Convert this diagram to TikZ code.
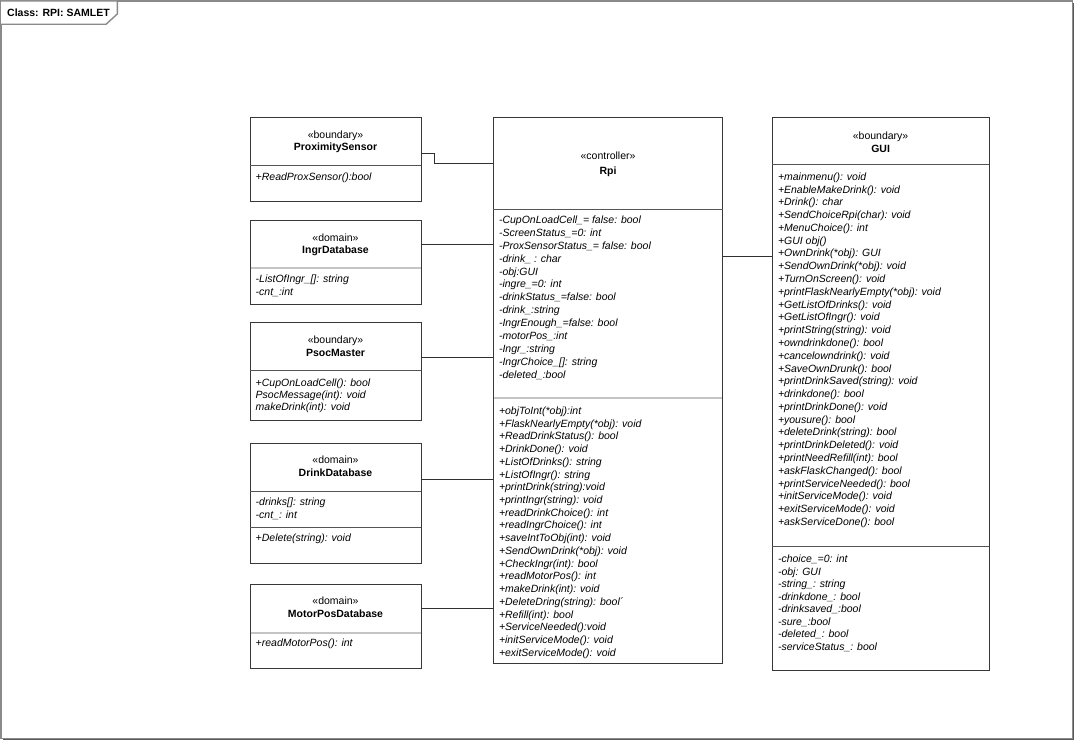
\documentclass[tikz,border=0pt]{standalone}
\usepackage{fontspec}
\setmainfont{Liberation Sans}
\usetikzlibrary{calc}
\definecolor{boxline}{HTML}{383838}
\definecolor{sepdark}{HTML}{555555}
\definecolor{seplight}{HTML}{C4C4C4}
\definecolor{connline}{HTML}{303030}
\definecolor{frameline}{HTML}{8A8A8A}
\definecolor{frameshadow}{HTML}{5A5A5A}
\begin{document}
\begin{tikzpicture}[x=1pt,y=-1pt,
  cbox/.style={draw=boxline, line width=1pt, fill=white, inner sep=0pt, outer sep=0pt, anchor=north west},
  member/.style={anchor=base west, inner sep=0pt, font=\fontsize{10.5}{12.8}\selectfont\itshape},
  stereo/.style={anchor=base, inner sep=0pt, font=\fontsize{10.5}{12.8}\selectfont},
  cname/.style={anchor=base, inner sep=0pt, font=\fontsize{10.5}{12.8}\selectfont\bfseries},
  sepd/.style={draw=sepdark, line width=1pt},
  sepl/.style={draw=seplight, line width=2pt},
  conn/.style={draw=connline, line width=1pt},
  frame/.style={draw=frameline, line width=1.4pt},
  fshadow/.style={draw=frameshadow, line width=1pt},
  tabtext/.style={anchor=base west, inner sep=0pt, font=\fontsize{10.5}{12.8}\selectfont\bfseries}]

\fill[white] (0,0) rectangle (1075,741);
\useasboundingbox (0,0) rectangle (1075,741);

% outer frame
\draw[frame] (1,1) rectangle (1072.3,738.3);
\draw[fshadow] (1073.5,3) -- (1073.5,739.5) -- (3,739.5);
\draw[frame, fill=white] (1,1) -- (117.3,1) -- (117.3,14) -- (106,24.3) -- (1,24.3);
\node[tabtext] (title) at (7,16.3) {Class: RPI: SAMLET};

% ---------------- ProximitySensor
\node[cbox, minimum width=171pt, minimum height=84pt] (prox) at (250,117.3) {};
\draw[sepd] (250,165.7) -- (421,165.7);
\node[stereo] (proxS) at (335.5,138.6) {«boundary»};
\node[cname] (proxN) at (335.5,150.6) {ProximitySensor};
\node[member] (proxO) at (255.5,180.3) {+ReadProxSensor():bool};

% ---------------- IngrDatabase
\node[cbox, minimum width=171pt, minimum height=83.3pt] (ingr) at (250,220.7) {};
\draw[sepl] (250.5,267.7) -- (420.5,267.7);
\node[stereo] (ingrS) at (335.5,241.3) {«domain»};
\node[cname] (ingrN) at (335.5,253.8) {IngrDatabase};
\node[member] (ingrA0) at (255.5,282.9) {-ListOfIngr\_[]: string};
\node[member] (ingrA1) at (255.5,295.9) {-cnt\_:int};

% ---------------- PsocMaster
\node[cbox, minimum width=171pt, minimum height=97.7pt] (psoc) at (250,322.3) {};
\draw[sepd] (250,370.7) -- (421,370.7);
\node[stereo] (psocS) at (335.5,343.6) {«boundary»};
\node[cname] (psocN) at (335.5,356.1) {PsocMaster};
\foreach \t [count=\i from 0] in {{+CupOnLoadCell(): bool},{PsocMessage(int): void},{makeDrink(int): void}}
  \node[member] (psocO\i) at (255.5,{386.3+\i*12.2}) {\t};

% ---------------- DrinkDatabase
\node[cbox, minimum width=171pt, minimum height=120pt] (drink) at (250,443.3) {};
\draw[sepd] (250,491.7) -- (421,491.7);
\draw[sepd] (250,527.3) -- (421,527.3);
\node[stereo] (drinkS) at (335.5,463.6) {«domain»};
\node[cname] (drinkN) at (335.5,476.3) {DrinkDatabase};
\node[member] (drinkA0) at (255.5,505.9) {-drinks[]: string};
\node[member] (drinkA1) at (255.5,518.4) {-cnt\_: int};
\node[member] (drinkO0) at (255.5,541.9) {+Delete(string): void};

% ---------------- MotorPosDatabase
\node[cbox, minimum width=171pt, minimum height=84pt] (motor) at (250,584.3) {};
\draw[sepl] (250.5,632.5) -- (420.5,632.5);
\node[stereo] (motorS) at (335.5,604.6) {«domain»};
\node[cname] (motorN) at (335.5,617.6) {MotorPosDatabase};
\node[member] (motorO0) at (255.5,646.9) {+readMotorPos(): int};

% ---------------- Rpi
\node[cbox, minimum width=229.4pt, minimum height=546.4pt] (rpi) at (493.3,117.3) {};
\draw[sepd] (493.3,209) -- (722.7,209);
\draw[sepl] (493.8,398.3) -- (722.2,398.3);
\node[stereo] (rpiS) at (608,159.6) {«controller»};
\node[cname] (rpiN) at (608,174.7) {Rpi};
\foreach \t [count=\i from 0] in {
  {-CupOnLoadCell\_= false: bool},
  {-ScreenStatus\_=0: int},
  {-ProxSensorStatus\_= false: bool},
  {-drink\_ : char},
  {-obj:GUI},
  {-ingre\_=0: int},
  {-drinkStatus\_=false: bool},
  {-drink\_:string},
  {-IngrEnough\_=false: bool},
  {-motorPos\_:int},
  {-Ingr\_:string},
  {-IngrChoice\_[]: string},
  {-deleted\_:bool}}
  \node[member] (rpiA\i) at (498.8,{223.6+\i*12.87}) {\t};
\foreach \t [count=\i from 0] in {
  {+objToInt(*obj):int},
  {+FlaskNearlyEmpty(*obj): void},
  {+ReadDrinkStatus(): bool},
  {+DrinkDone(): void},
  {+ListOfDrinks(): string},
  {+ListOfIngr(): string},
  {+printDrink(string):void},
  {+printIngr(string): void},
  {+readDrinkChoice(): int},
  {+readIngrChoice(): int},
  {+saveIntToObj(int): void},
  {+SendOwnDrink(*obj): void},
  {+CheckIngr(int): bool},
  {+readMotorPos(): int},
  {+makeDrink(int): void},
  {+DeleteDring(string): bool´},
  {+Refill(int): bool},
  {+ServiceNeeded():void},
  {+initServiceMode(): void},
  {+exitServiceMode(): void}}
  \node[member] (rpiO\i) at (498.8,{414.3+\i*12.74}) {\t};

% ---------------- GUI
\node[cbox, minimum width=216.7pt, minimum height=553.4pt] (gui) at (772.3,117.3) {};
\draw[sepd] (772.3,164.3) -- (989,164.3);
\draw[sepd] (772.3,546.7) -- (989,546.7);
\node[stereo] (guiS) at (880.6,139.6) {«boundary»};
\node[cname] (guiN) at (880.6,152) {GUI};
\foreach \t [count=\i from 0] in {
  {+mainmenu(): void},
  {+EnableMakeDrink(): void},
  {+Drink(): char},
  {+SendChoiceRpi(char): void},
  {+MenuChoice(): int},
  {+GUI obj()},
  {+OwnDrink(*obj): GUI},
  {+SendOwnDrink(*obj): void},
  {+TurnOnScreen(): void},
  {+printFlaskNearlyEmpty(*obj): void},
  {+GetListOfDrinks(): void},
  {+GetListOfIngr(): void},
  {+printString(string): void},
  {+owndrinkdone(): bool},
  {+cancelowndrink(): void},
  {+SaveOwnDrunk(): bool},
  {+printDrinkSaved(string): void},
  {+drinkdone(): bool},
  {+printDrinkDone(): void},
  {+yousure(): bool},
  {+deleteDrink(string): bool},
  {+printDrinkDeleted(): void},
  {+printNeedRefill(int): bool},
  {+askFlaskChanged(): bool},
  {+printServiceNeeded(): bool},
  {+initServiceMode(): void},
  {+exitServiceMode(): void},
  {+askServiceDone(): bool}}
  \node[member] (guiO\i) at (777.8,{180.3+\i*12.78}) {\t};
\foreach \t [count=\i from 0] in {
  {-choice\_=0: int},
  {-obj: GUI},
  {-string\_: string},
  {-drinkdone\_: bool},
  {-drinksaved\_:bool},
  {-sure\_:bool},
  {-deleted\_: bool},
  {-serviceStatus\_: bool}}
  \node[member] (guiA\i) at (777.8,{562.6+\i*12.55}) {\t};

% ---------------- connectors
\coordinate (proxEnd) at ($(prox.north east)+(0,36.2)$);
\draw[conn] (proxEnd) -- ++(13.5,0) |- ($(rpi.north west)+(0,46.2)$);
\draw[conn] ($(ingr.north east)+(0,23.6)$) -- ($(rpi.north west)+(0,127)$);
\draw[conn] ($(psoc.north east)+(0,35)$) -- ($(rpi.north west)+(0,240)$);
\draw[conn] ($(drink.north east)+(0,35.7)$) -- ($(rpi.north west)+(0,361.7)$);
\draw[conn] ($(motor.north east)+(0,24)$) -- ($(rpi.north west)+(0,491)$);
\draw[conn] ($(rpi.north east)+(0,139.4)$) -- ($(gui.north west)+(0,139.4)$);
\end{tikzpicture}
\end{document}
